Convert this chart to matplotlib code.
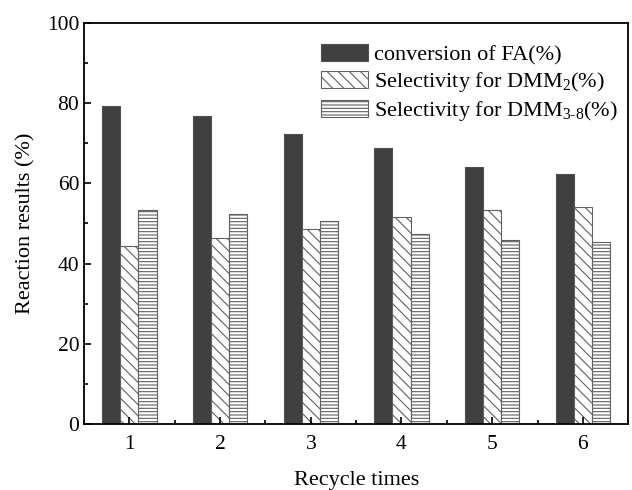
import numpy as np
import matplotlib
matplotlib.use('Agg')
import matplotlib.pyplot as plt
from matplotlib.ticker import MultipleLocator

plt.rcParams['font.family'] = 'Liberation Serif'
plt.rcParams['mathtext.fontset'] = 'custom'
plt.rcParams['mathtext.rm'] = 'Liberation Serif'
plt.rcParams['hatch.linewidth'] = 0.8

times = [1, 2, 3, 4, 5, 6]
conversion = [79.3, 76.9, 72.3, 68.8, 64.1, 62.4]
sel_dmm2 = [44.4, 46.4, 48.6, 51.7, 53.4, 54.0]
sel_dmm38 = [53.3, 52.3, 50.6, 47.4, 45.9, 45.4]

fig, ax = plt.subplots(figsize=(6.32, 4.9), dpi=100)
fig.subplots_adjust(left=0.133, right=0.994, top=0.953, bottom=0.135)

x = np.array(times)
w = 0.2
ax.bar(x - w, conversion, w, color='#404040', edgecolor='#505050', linewidth=0.8,
       label='conversion of FA(%)')
ax.bar(x, sel_dmm2, w, color='white', edgecolor='#606060', hatch='\\\\\\', linewidth=0.8,
       label=r'Selectivity for DMM$_{\rm 2}$(%)')
ax.bar(x + w, sel_dmm38, w, color='white', edgecolor='#606060', hatch='-----', linewidth=0.8,
       label=r'Selectivity for DMM$_{\rm 3\text{-}8}$(%)')

ax.set_xlim(0.5, 6.5)
ax.set_ylim(0, 100)
ax.set_xticks(times)
ax.xaxis.set_minor_locator(MultipleLocator(1, offset=0.5))
ax.yaxis.set_major_locator(MultipleLocator(20))
ax.yaxis.set_minor_locator(MultipleLocator(10))
ax.tick_params(which='both', direction='in', labelsize=15.5, width=1.2)
ax.tick_params(which='major', length=5)
ax.tick_params(which='minor', length=3)
ax.tick_params(axis='x', pad=8)
for s in ax.spines.values():
    s.set_linewidth(1.3)

ax.set_xlabel('Recycle times', fontsize=16, labelpad=12)
ax.set_ylabel('Reaction results (%)', fontsize=16, labelpad=8)

ax.legend(loc='upper right', frameon=False, fontsize=16, handlelength=2.1,
          handleheight=0.8, labelspacing=0.22, handletextpad=0.27,
          bbox_to_anchor=(1.018, 0.998))

fig.savefig('out.png')
